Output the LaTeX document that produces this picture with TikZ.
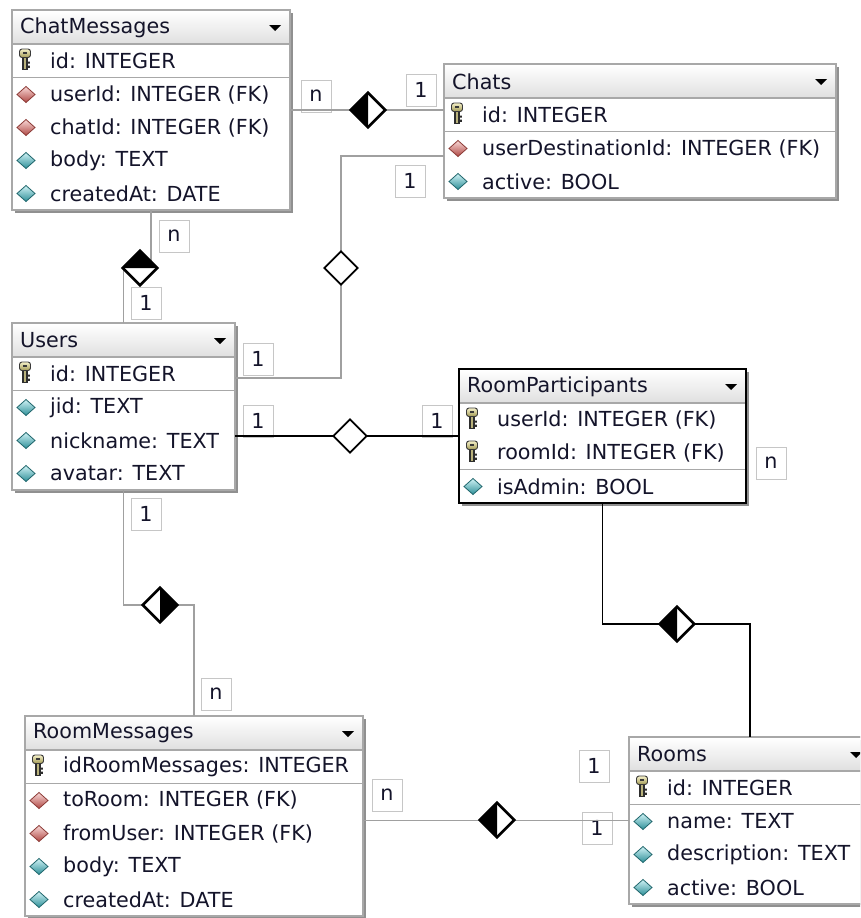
\documentclass[tikz,border=0pt]{standalone}
\usepackage{fontspec}
\setmainfont{DejaVu Sans}
\usetikzlibrary{shapes.geometric,calc}

\definecolor{boxline}{HTML}{A8A8A8}
\definecolor{shadowc}{HTML}{909090}
\definecolor{connc}{HTML}{A0A0A0}
\definecolor{fkred}{HTML}{E8605A}
\definecolor{attcyan}{HTML}{40CCD8}
\definecolor{keygold}{HTML}{E8DC78}
\definecolor{txt}{HTML}{14142A}

\tikzset{
  erdtext/.style={anchor=west, inner sep=0pt, font=\fontsize{20.7}{24}\selectfont, text=txt},
  mult/.style={draw=gray!45, line width=1pt, minimum width=30pt, minimum height=32pt,
    inner sep=0pt, font=\fontsize{20.7}{24}\selectfont, text=txt},
  conn/.style={draw=connc, line width=1.5pt},
  connb/.style={draw=black, line width=1.5pt},
  dia/.style={diamond, aspect=1, minimum width=34pt, minimum height=34pt, inner sep=0pt,
    fill=white, draw=black, line width=1.8pt},
  diaedge/.style={draw=black, line width=1.8pt, line join=miter},
}

% column icons: 0 = primary key, 1 = foreign key, 2 = plain attribute
\newcommand\erdicon[2]{%
  \ifcase#1\relax
    \begin{scope}[shift={#2}, xshift=-1pt]
      % shaft with teeth
      \fill[gray!35!black] (-3,-4) rectangle (2.5,9);
      \fill[gray!35!black] (2.5,1) rectangle (4.8,3.2) (2.5,5.2) rectangle (4.8,7.4);
      \fill[keygold!55!gray] (-1.2,-3) rectangle (0.8,8);
      % bow
      \shade[top color=keygold!40!white, bottom color=keygold!70!black, draw=gray!45!black, line width=0.9pt,
             rounded corners=2.5pt]
        (-5.5,-11.5) rectangle (5.5,-3);
      \fill[gray!45!black] (-2.4,-8.2) rectangle (2.4,-6.4);
    \end{scope}
  \or
    \shade[top color=fkred!25!white, middle color=fkred, bottom color=fkred!75!black, draw=fkred!60!black, line width=0.8pt]
      #2 ++(-9,0) -- ++(9,-8) -- ++(9,8) -- ++(-9,8) -- cycle;
  \or
    \shade[top color=attcyan!25!white, middle color=attcyan, bottom color=attcyan!70!black, draw=attcyan!50!black, line width=0.8pt]
      #2 ++(-9,0) -- ++(9,-8) -- ++(9,8) -- ++(-9,8) -- cycle;
  \fi}

% #1 border colour, #2 name, #3 left, #4 top, #5 width, #6 key rows, #7 rows, #8 title, #9 icon/text rows
\newcommand\erdtable[9]{%
  \pgfmathsetmacro\erdH{34+33*#7+1}
  \fill[shadowc] (#3+3,#4+3) rectangle (#3+#5+3,#4+\erdH+3);
  \node[draw=#1, line width=1.4pt, fill=white, minimum width=#5pt, minimum height=\erdH pt,
        inner sep=0pt, outer sep=0pt, anchor=north west] (#2) at (#3,#4) {};
  \shade[top color=white, bottom color=gray!25] ($(#2.north west)+(1,1)$) rectangle ($(#2.north east)+(-1,34)$);
  \draw[boxline, line width=1.2pt] ($(#2.north west)+(0,34)$) -- ($(#2.north east)+(0,34)$);
  \draw[boxline, line width=1.2pt] ($(#2.north west)+(0,34.5+33*#6)$) -- ($(#2.north east)+(0,34.5+33*#6)$);
  \draw[draw=#1, line width=1.4pt] (#2.north west) rectangle (#2.south east);
  \node[erdtext] (#2-title) at ($(#2.north west)+(8,17.5)$) {#8};
  \fill[black] ($(#2.north east)+(-21,15)$) -- ++(12,0) -- ++(-6,6) -- cycle;
  \foreach \ic/\tx [count=\j from 0] in {#9}{
    \pgfmathsetmacro\yy{34+16.5+33*\j+(\j>=#6)}
    \erdicon{\ic}{($(#2.north west)+(14,\yy)$)}
    \node[erdtext] (#2-r\j) at ($(#2.north west)+(38,\yy)$) {\tx};
  }}

\newcommand\halfblack[4]{%
  \fill[black] (#1.#2) -- (#1.#3) -- (#1.#4) -- cycle;
  \draw[diaedge] (#1.north) -- (#1.east) -- (#1.south) -- (#1.west) -- cycle;}

\begin{document}
\begin{tikzpicture}[x=1pt, y=-1pt]
  \useasboundingbox (0,0) rectangle (860,918);
  \clip (0,0) rectangle (860,918);
  \fill[white] (0,0) rectangle (860,918);

  % tables
  \erdtable{boxline}{cm}{12}{10}{278}{1}{5}{ChatMessages}
    {0/id: INTEGER, 1/userId: INTEGER (FK), 1/chatId: INTEGER (FK), 2/body: TEXT, 2/createdAt: DATE}
  \erdtable{boxline}{chats}{444}{64}{392}{1}{3}{Chats}
    {0/id: INTEGER, 1/userDestinationId: INTEGER (FK), 2/active: BOOL}
  \erdtable{boxline}{users}{12}{323}{223}{1}{4}{Users}
    {0/id: INTEGER, 2/jid: TEXT, 2/nickname: TEXT, 2/avatar: TEXT}
  \erdtable{black}{rp}{459}{369}{287}{2}{3}{RoomParticipants}
    {0/userId: INTEGER (FK), 0/roomId: INTEGER (FK), 2/isAdmin: BOOL}
  \erdtable{boxline}{rm}{25}{716}{338}{1}{5}{RoomMessages}
    {0/idRoomMessages: INTEGER, 1/toRoom: INTEGER (FK), 1/fromUser: INTEGER (FK), 2/body: TEXT, 2/createdAt: DATE}
  \erdtable{boxline}{rooms}{629}{737}{242}{1}{4}{Rooms}
    {0/id: INTEGER, 2/name: TEXT, 2/description: TEXT, 2/active: BOOL}

  % multiplicity labels
  \node[mult] (m1) at (316,96) {n};
  \node[mult] (m2) at (421,90) {1};
  \node[mult] (m3) at (174,236) {n};
  \node[mult] (m4) at (146,303) {1};
  \node[mult] (m5) at (410,181) {1};
  \node[mult] (m6) at (258,359) {1};
  \node[mult] (m7) at (258,421) {1};
  \node[mult] (m8) at (437,421) {1};
  \node[mult] (m9) at (146,514) {1};
  \node[mult] (m10) at (216,694) {n};
  \node[mult] (m11) at (771,463) {n};
  \node[mult] (m12) at (594,766) {1};
  \node[mult] (m13) at (387,795) {n};
  \node[mult] (m14) at (597,828) {1};

  % relationship diamond positions
  \coordinate (p1) at (368,110);
  \coordinate (p2) at (140,268);
  \coordinate (p3) at (341,268);
  \coordinate (p4) at (350,436);
  \coordinate (p5) at (160,605);
  \coordinate (p6) at (677,624);
  \coordinate (p7) at (497,820);

  % connectors
  \draw[conn] (cm.east) -- (cm.east -| chats.west);
  \draw[conn] (cm.south) |- (p2) -| (users.north);
  \draw[conn] ($(chats.north west)+(0,92)$) -| (p3) |- ($(users.north east)+(0,55)$);
  \draw[connb] (users.east |- rp.west) -- (rp.west);
  \draw[conn] (users.south) |- (p5) -| (rm.north);
  \draw[connb] (rp.south) |- (p6) -| (rooms.north);
  \draw[conn] (rm.east |- rooms.west) -- (rooms.west);

  \node[dia] (d1) at (p1) {};
  \node[dia] (d2) at (p2) {};
  \node[dia] (d3) at (p3) {};
  \node[dia] (d4) at (p4) {};
  \node[dia] (d5) at (p5) {};
  \node[dia] (d6) at (p6) {};
  \node[dia] (d7) at (p7) {};
  \halfblack{d1}{north}{west}{south}
  \halfblack{d2}{west}{north}{east}
  \halfblack{d5}{north}{east}{south}
  \halfblack{d6}{north}{west}{south}
  \halfblack{d7}{north}{west}{south}
\end{tikzpicture}
\end{document}
